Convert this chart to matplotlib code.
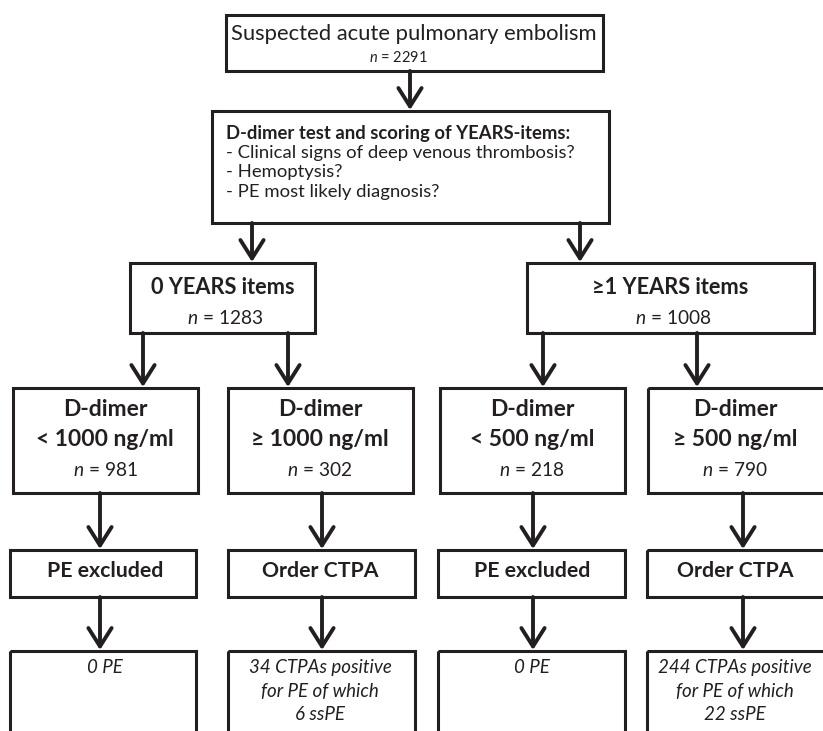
import matplotlib.pyplot as plt
from matplotlib.patches import Rectangle

plt.rcParams['font.family'] = ['Lato', 'DejaVu Sans']
plt.rcParams['mathtext.fontset'] = 'custom'
plt.rcParams['mathtext.rm'] = 'Lato'
plt.rcParams['mathtext.it'] = 'Lato:italic'

INK = '#231f20'

# 文字内容
title = 'Suspected acute pulmonary embolism'
n_total = 2291
years_header = 'D-dimer test and scoring of YEARS-items:'
years_items = ['- Clinical signs of deep venous thrombosis?',
               '- Hemoptysis?',
               '- PE most likely diagnosis?']
group_labels = ['0 YEARS items', '\u22651 YEARS items']
group_n = [1283, 1008]
ddimer_labels = ['< 1000 ng/ml', '\u2265 1000 ng/ml', '< 500 ng/ml', '\u2265 500 ng/ml']
ddimer_n = [981, 302, 218, 790]
action_labels = ['PE excluded', 'Order CTPA', 'PE excluded', 'Order CTPA']
outcome_labels = ['0 PE',
                  '34 CTPAs positive\nfor PE of which\n6 ssPE',
                  '0 PE',
                  '244 CTPAs positive\nfor PE of which\n22 ssPE']

fig = plt.figure(figsize=(8.23, 7.31), dpi=100)
ax = fig.add_axes([0, 0, 1, 1])
ax.set_xlim(0, 823)
ax.set_ylim(731, 0)
ax.axis('off')


def box(x0, y0, x1, y1):
    ax.add_patch(Rectangle((x0, y0), x1 - x0, y1 - y0, fill=False,
                           edgecolor=INK, lw=2.2, clip_on=True))


def arrow(x, y0, y1):
    ax.annotate('', xy=(x, y1), xytext=(x, y0),
                arrowprops=dict(arrowstyle='->,head_length=0.6,head_width=0.38',
                                lw=2.8, color=INK, shrinkA=0, shrinkB=0,
                                mutation_scale=22))


def n_text(x, y, n, size=13.8):
    ax.text(x, y, r'$\it{n}$' + ' = %d' % n, ha='center', va='center',
            fontsize=size, color=INK)


# 顶部
box(226, 15, 603, 71)
ax.text(414, 34, title, ha='center', va='center', fontsize=15.8, color=INK)
n_text(398, 58, n_total, size=10.5)
arrow(410, 71, 110)

# YEARS 项目
box(212, 111, 609, 223)
ax.text(226, 133, years_header, ha='left', va='center', fontsize=13.3,
        fontweight='bold', color=INK)
for i, item in enumerate(years_items):
    ax.text(226, 153 + i * 19.5, item, ha='left', va='center', fontsize=13.3, color=INK)
arrow(252, 223, 262)
arrow(580, 223, 262)

# 分组
group_boxes = [(130, 263, 315, 333), (527, 263, 814, 333)]
for (x0, y0, x1, y1), lab, n in zip(group_boxes, group_labels, group_n):
    box(x0, y0, x1, y1)
    cx = (x0 + x1) / 2
    ax.text(cx, 287, lab, ha='center', va='center', fontsize=15.7,
            fontweight='bold', color=INK)
    n_text(cx + 3, 318, n)

for x in [143, 288, 543, 697]:
    arrow(x, 333, 387)

# D-dimer
cols = [(13, 198), (228, 413), (440, 625), (648, 840)]
centers = [105, 320, 532, 735]
for (x0, x1), cx, lab, n in zip(cols, centers, ddimer_labels, ddimer_n):
    box(x0, 388, x1, 493)
    ax.text(cx, 410, 'D-dimer', ha='center', va='center', fontsize=16.5,
            fontweight='bold', color=INK)
    ax.text(cx, 440, lab, ha='center', va='center', fontsize=16.5,
            fontweight='bold', color=INK)
    n_text(cx, 470, n)

arrow_x = [100, 322, 533, 743]
for x in arrow_x:
    arrow(x, 493, 549)

# 处理
act_cols = [(10, 196), (228, 415), (438, 625), (647, 840)]
for (x0, x1), cx, lab in zip(act_cols, centers, action_labels):
    box(x0, 550, x1, 597)
    ax.text(cx, 571, lab, ha='center', va='center', fontsize=15.3,
            fontweight='bold', color=INK)

for x in arrow_x:
    arrow(x, 597, 650)

# 结果
for (x0, x1), cx, lab in zip(act_cols, centers, outcome_labels):
    box(x0, 651, x1, 760)
    ax.text(cx, 659, lab, ha='center', va='top', fontsize=13.5,
            style='italic', color=INK, linespacing=1.48)

fig.savefig('out.png', dpi=100)
